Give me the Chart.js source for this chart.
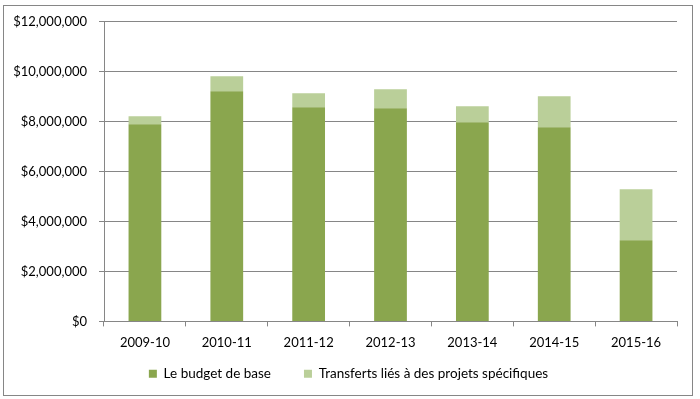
<!DOCTYPE html>
<html>
<head>
<meta charset="utf-8">
<script src="https://cdn.jsdelivr.net/npm/chart.js@4/dist/chart.umd.min.js"></script>
<style>
  html, body { margin: 0; padding: 0; background: #fff; }
  #wrap {
    position: absolute; left: 3px; top: 5px;
    width: 688px; height: 389px;
    border: 1px solid #868686;
  }
</style>
</head>
<body>
<div id="wrap"><canvas id="barChart"></canvas></div>
<script>
// Data
const years = ['2009-10', '2010-11', '2011-12', '2012-13', '2013-14', '2014-15', '2015-16'];
const baseBudget = [7890000, 9210000, 8570000, 8530000, 7970000, 7770000, 3250000];
const transfers = [320000, 600000, 560000, 760000, 640000, 1240000, 2040000];
const seriesNames = ['Le budget de base', 'Transferts liés à des projets spécifiques'];

// Color Variables
const baseColor = '#8aa64e';
const lightColor = '#bacf99';
const gridColor = '#868686';
const tickColor = '#000000';
const fontFamily = 'Lato, "Liberation Sans", sans-serif';

const fmtMoney = v => '$' + Math.round(v).toLocaleString('en-US');

// legend: fixed height, drawn a bit higher (wide item spacing, tight rows)
const legendHeight = {
  id: 'legendHeight',
  afterInit(chart) {
    const legend = chart.legend;
    const fit = legend.fit;
    const draw = legend.draw;
    legend.fit = function () {
      fit.call(this);
      this.height = 33;
    };
    legend.draw = function () {
      const ctx = this.ctx;
      ctx.save();
      ctx.translate(8, 0);
      this.top -= 26;
      draw.call(this);
      this.top += 26;
      ctx.restore();
    };
  }
};

const barChart = document.getElementById('barChart');
if (barChart) {
  new Chart(barChart, {
    type: 'bar',
    data: {
      labels: years,
      datasets: [
        {
          label: seriesNames[0],
          data: baseBudget,
          backgroundColor: baseColor,
          borderWidth: 0,
          barPercentage: 0.4,
          categoryPercentage: 1
        },
        {
          label: seriesNames[1],
          data: transfers,
          backgroundColor: lightColor,
          borderWidth: 0,
          barPercentage: 0.4,
          categoryPercentage: 1
        }
      ]
    },
    options: {
      responsive: true,
      maintainAspectRatio: false,
      animation: false,
      layout: {
        padding: { top: 0, right: 15, left: 0, bottom: 2 }
      },
      plugins: {
        tooltip: { enabled: false },
        legend: {
          position: 'bottom',
          labels: {
            boxWidth: 8,
            boxHeight: 8,
            padding: 33,
            color: tickColor,
            font: { family: fontFamily, size: 13.5 }
          }
        }
      },
      scales: {
        x: {
          stacked: true,
          grid: {
            display: true,
            drawOnChartArea: false,
            offset: true,
            tickLength: 5,
            color: gridColor
          },
          border: { color: gridColor },
          ticks: {
            color: tickColor,
            padding: 9,
            font: { family: fontFamily, size: 13 }
          }
        },
        y: {
          stacked: true,
          min: 0,
          max: 12000000,
          afterFit: scale => { scale.width = 100; },
          grid: {
            color: gridColor,
            tickLength: 5
          },
          border: { color: gridColor },
          ticks: {
            stepSize: 2000000,
            color: tickColor,
            padding: 12,
            font: { family: fontFamily, size: 13, lineHeight: 0.55 },
            callback: v => fmtMoney(v)
          }
        }
      }
    },
    plugins: [legendHeight]
  });
}
</script>
</body>
</html>
